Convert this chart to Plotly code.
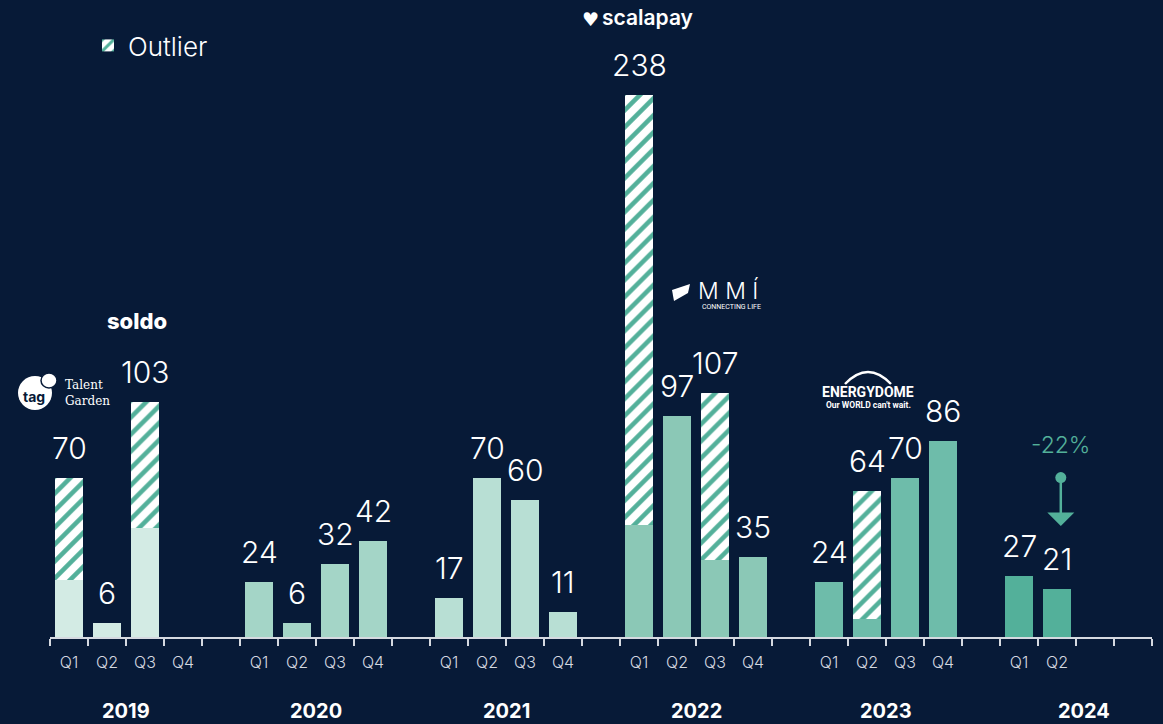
import plotly.graph_objects as go

# ---------------- data ----------------
years = ["2019", "2020", "2021", "2022", "2023", "2024"]
quarters = ["Q1", "Q2", "Q3", "Q4"]
values = {
    "2019": [70, 6, 103, None],
    "2020": [24, 6, 32, 42],
    "2021": [17, 70, 60, 11],
    "2022": [238, 97, 107, 35],
    "2023": [24, 64, 70, 86],
    "2024": [27, 21, None, None],
}
# non-outlier (solid) part of bars that contain an outlier
outlier_base = {
    ("2019", "Q1"): 25,
    ("2019", "Q3"): 48,
    ("2022", "Q1"): 49,
    ("2022", "Q3"): 34,
    ("2023", "Q2"): 8,
}
labelled_quarters = {
    "2019": ["Q1", "Q2", "Q3", "Q4"],
    "2020": ["Q1", "Q2", "Q3", "Q4"],
    "2021": ["Q1", "Q2", "Q3", "Q4"],
    "2022": ["Q1", "Q2", "Q3", "Q4"],
    "2023": ["Q1", "Q2", "Q3", "Q4"],
    "2024": ["Q1", "Q2"],
}
year_colors = {
    "2019": "#d3ebe4",
    "2020": "#a4d5c7",
    "2021": "#b8dfd4",
    "2022": "#8bc8b6",
    "2023": "#6ebcaa",
    "2024": "#53b09a",
}
change_label = "-22%"

# ---------------- layout constants ----------------
W, H = 1163, 724
ML, MR, MT, MB = 50, 11, 40, 87
PW, PH = W - ML - MR, H - MT - MB
BG = "#071a37"
TEAL = "#53b09a"
FONT = "Inter"


def px(xp):
    return (xp - ML) / PW


def py(yp):
    return (H - MB - yp) / PH


def slot(yi, qi):
    return 5 * yi + qi


solid_x, solid_y, solid_c = [], [], []
out_x, out_y, out_base = [], [], []
annotations = []
tickvals, ticktext = [], []

for yi, yr in enumerate(years):
    for qi, q in enumerate(quarters):
        x = slot(yi, qi)
        if q in labelled_quarters[yr]:
            tickvals.append(x)
            ticktext.append(q)
        v = values[yr][qi]
        if v is None:
            continue
        base = outlier_base.get((yr, q))
        solid_x.append(x)
        solid_c.append(year_colors[yr])
        if base is None:
            solid_y.append(v)
        else:
            solid_y.append(base)
            out_x.append(x)
            out_y.append(v - base)
            out_base.append(base)
        annotations.append(dict(
            x=x, y=v, xref="x", yref="y", text=str(v), showarrow=False,
            xanchor="center", yanchor="middle", yshift=30,
            font=dict(family=FONT, size=30, weight=300, color="white"),
        ))

fig = go.Figure()
fig.add_trace(go.Bar(
    x=solid_x, y=solid_y, width=0.74, marker=dict(color=solid_c, line=dict(width=0)),
    showlegend=False, hoverinfo="skip",
))
fig.add_trace(go.Bar(
    x=out_x, y=out_y, base=out_base, width=0.74, name="Outlier",
    marker=dict(color="white", line=dict(width=0),
                pattern=dict(shape="/", fgcolor=TEAL, bgcolor="white",
                             size=12, solidity=0.38, fillmode="replace")),
    showlegend=True, hoverinfo="skip",
))

# year labels
for yi, yr in enumerate(years):
    xc = slot(yi, 1.5) if yr != "2024" else slot(yi, 1.7)
    annotations.append(dict(
        x=xc, y=py(711), xref="x", yref="paper", text="<b>%s</b>" % yr,
        showarrow=False, xanchor="center", yanchor="middle",
        font=dict(family=FONT, size=20, weight=800, color="white"),
    ))

# -22% change marker between 2024 Q1 and Q2
x_arrow = slot(5, 1) + 0.1
annotations.append(dict(
    x=x_arrow, y=84.3, xref="x", yref="y", text=change_label, showarrow=False,
    xanchor="center", yanchor="middle",
    font=dict(family=FONT, size=23, weight=300, color=TEAL),
))
annotations.append(dict(
    x=x_arrow, y=48.8, xref="x", yref="y", text="", showarrow=True,
    ax=x_arrow, ay=70.0, axref="x", ayref="y",
    arrowhead=1, arrowsize=1.8, arrowwidth=2.5, arrowcolor=TEAL,
))
fig.add_trace(go.Scatter(
    x=[x_arrow], y=[70.0], mode="markers",
    marker=dict(size=11, color=TEAL), showlegend=False, hoverinfo="skip",
))

# ---------------- logos as text ----------------
def logo_text(x, y, text, size, family=FONT, weight=None, color="white", xanchor="center"):
    f = dict(family=family, size=size, color=color)
    if weight is not None:
        f["weight"] = weight
    return dict(x=px(x), y=py(y), xref="paper", yref="paper", text=text,
                showarrow=False, xanchor=xanchor, yanchor="middle", align="left", font=f)


annotations += [
    logo_text(590, 19, "♥", 19, family="DejaVu Sans"),
    logo_text(600, 18, "scalapay", 21, weight=600, xanchor="left"),
    logo_text(137, 321, "soldo", 22, weight=800),
    logo_text(34, 396, "<b>tag</b>", 14, color=BG),
    logo_text(63, 393, "Talent<br>Garden", 12, family="DejaVu Serif", xanchor="left"),
    logo_text(728, 291, "M M Í", 23, weight=300),
    logo_text(731, 307, "CONNECTING LIFE", 7, family="Roboto"),
    logo_text(868, 392, "<b>ENERGYDOME</b>", 14, family="Roboto"),
    logo_text(868, 405, "<b>Our WORLD can't wait.</b>", 8.5, family="Roboto"),
]

shapes = [
    dict(type="circle", xref="paper", yref="paper", layer="below",
         x0=px(18), x1=px(52), y0=py(410), y1=py(376),
         fillcolor="white", line=dict(width=0)),
    dict(type="circle", xref="paper", yref="paper", layer="below",
         x0=px(41), x1=px(57), y0=py(388), y1=py(373),
         fillcolor="white", line=dict(color=BG, width=1.5)),
    dict(type="path", xref="paper", yref="paper",
         path="M %f,%f Q %f,%f %f,%f" % (px(845), py(384), px(868), py(360), px(891), py(384)),
         line=dict(color="white", width=2.5)),
    dict(type="path", xref="paper", yref="paper",
         path="M %f,%f L %f,%f L %f,%f L %f,%f Z" % (px(672), py(290), px(690), py(284),
                                                     px(688), py(293), px(674), py(301)),
         fillcolor="white", line=dict(width=0)),
]

fig.update_layout(
    width=W, height=H,
    margin=dict(l=ML, r=MR, t=MT, b=MB),
    paper_bgcolor=BG, plot_bgcolor=BG,
    barmode="overlay",
    bargap=0,
    font=dict(family=FONT, color="white"),
    annotations=annotations,
    shapes=shapes,
    legend=dict(x=px(88), y=py(22), xanchor="left", yanchor="top",
                bgcolor="rgba(0,0,0,0)",
                font=dict(family=FONT, size=26, weight=300, color="white")),
    xaxis=dict(
        range=[-0.5, 28.5], showgrid=False, zeroline=False,
        showline=True, linecolor="#d5d9e0", linewidth=2,
        tickmode="array", tickvals=tickvals, ticktext=ticktext, ticks="",
        ticklabelstandoff=10,
        tickfont=dict(family=FONT, size=16, weight=300, color="#d5d9e0"),
        minor=dict(tickmode="array", tickvals=[i - 0.5 for i in range(30)],
                   ticks="outside", ticklen=7, tickwidth=2, tickcolor="#d5d9e0"),
        fixedrange=True,
    ),
    yaxis=dict(range=[0, PH / 2.277], showgrid=False, zeroline=False,
               showticklabels=False, showline=False, fixedrange=True),
)

fig.write_html(
    "out.html",
    config={"displayModeBar": False},
    post_script="document.body.style.margin='0';document.body.style.overflow='hidden';document.body.style.background='%s';" % BG,
)
